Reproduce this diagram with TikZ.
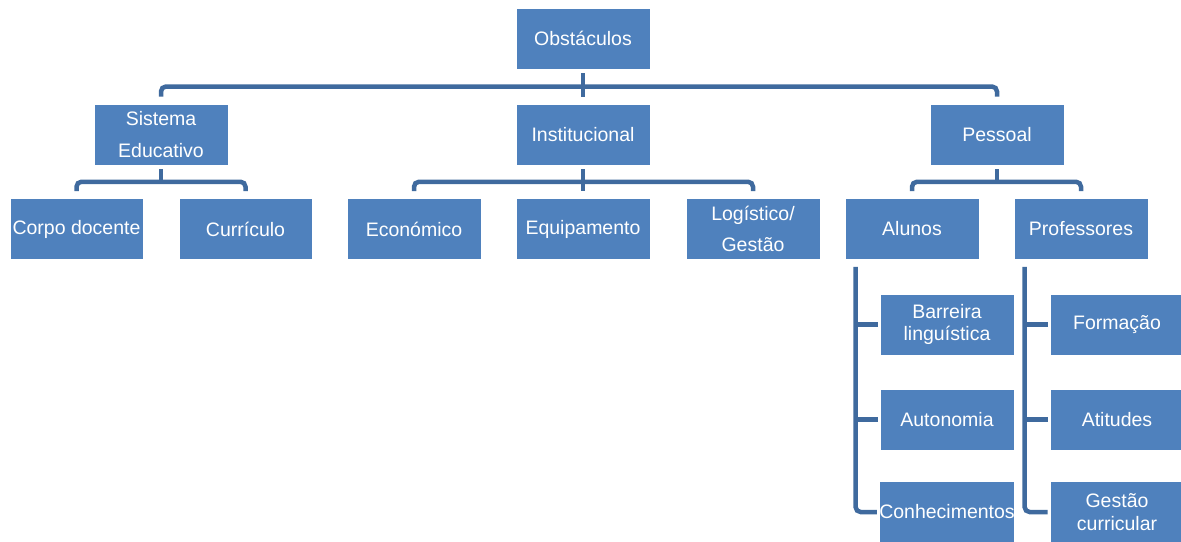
\documentclass[tikz,border=0pt]{standalone}
\usepackage{fontspec}
\setmainfont{Liberation Sans}
\usetikzlibrary{calc}
\definecolor{boxblue}{HTML}{4F81BD}
\definecolor{lineblue}{HTML}{3F6A9E}
\begin{document}
\begin{tikzpicture}[x=1pt,y=-1pt,
  box/.style={rectangle,fill=boxblue,draw=white,line width=0.8pt,minimum width=134pt,minimum height=61pt,inner sep=0pt,text=white,align=center,font=\fontsize{19.5}{22.5}\selectfont},
  wide/.style={font=\fontsize{19.5}{31.5}\selectfont},
  conn/.style={draw=lineblue,line width=4.5pt,rounded corners=5pt}]
\useasboundingbox (0,0) rectangle (1181,541);
\fill[white] (0,0) rectangle (1181,541);
% nodes
\node[box] (obs) at (583,38.5) {Obstáculos};
\node[box,wide] (sis) at (161,134.5) {Sistema\\Educativo};
\node[box] (inst) at (583,134.5) {Institucional};
\node[box] (pes) at (997,134.5) {Pessoal};
\node[box,minimum width=133pt] (corpo) at (76.5,229) {Corpo docente};
\node[box,minimum width=133pt] (curr) at (245.5,229) {Currículo};
\node[box] (econ) at (414,229) {Económico};
\node[box] (equip) at (583,229) {Equipamento};
\node[box,wide] (log) at (753,229) {Logístico/\\Gestão};
\node[box] (alunos) at (912,229) {Alunos};
\node[box] (prof) at (1081,229) {Professores};
\node[box] (barr) at (947,324.5) {Barreira\\linguística};
\node[box] (auto) at (947,419.5) {Autonomia};
\node[box] (conh) at (947,512) {Conhecimentos};
\node[box] (form) at (1117,324.5) {Formação};
\node[box] (atit) at (1117,419.5) {Atitudes};
\node[box] (gest) at (1117,512) {Gestão\\curricular};
% bar levels
\coordinate (b1) at ($(obs.south)!0.5!(inst.north)$);
\coordinate (b2) at ($(inst.south)!0.5!(equip.north)$);
\coordinate (sisb) at (sis.south |- b2);
\coordinate (pesb) at (pes.south |- b2);
% level 1 connectors
\draw[conn] ([yshift=-4pt]obs.south) -- ([yshift=7pt]inst.north);
\draw[conn] ([yshift=7pt]sis.north) |- (b1) -| ([yshift=7pt]pes.north);
% Sistema Educativo
\draw[conn] ([yshift=-4pt]sis.south) -- (sisb);
\draw[conn] ([yshift=7pt]corpo.north) |- (sisb) -| ([yshift=7pt]curr.north);
% Institucional
\draw[conn] ([yshift=-4pt]inst.south) -- ([yshift=7pt]equip.north);
\draw[conn] ([yshift=7pt]econ.north) |- (b2) -| ([yshift=7pt]log.north);
% Pessoal
\draw[conn] ([yshift=-4pt]pes.south) -- (pesb);
\draw[conn] ([yshift=7pt]alunos.north) |- (pesb) -| ([yshift=7pt]prof.north);
% Alunos children
\coordinate (av) at ([xshift=11pt,yshift=-7pt]alunos.south west);
\draw[conn] (av) |- ([xshift=-2pt]conh.west);
\draw[conn,rounded corners=0pt] (av |- barr.west) -- ([xshift=-2pt]barr.west);
\draw[conn,rounded corners=0pt] (av |- auto.west) -- ([xshift=-2pt]auto.west);
% Professores children
\coordinate (pv) at ([xshift=11pt,yshift=-7pt]prof.south west);
\draw[conn] (pv) |- ([xshift=-2pt]gest.west);
\draw[conn,rounded corners=0pt] (pv |- form.west) -- ([xshift=-2pt]form.west);
\draw[conn,rounded corners=0pt] (pv |- atit.west) -- ([xshift=-2pt]atit.west);
\end{tikzpicture}
\end{document}
